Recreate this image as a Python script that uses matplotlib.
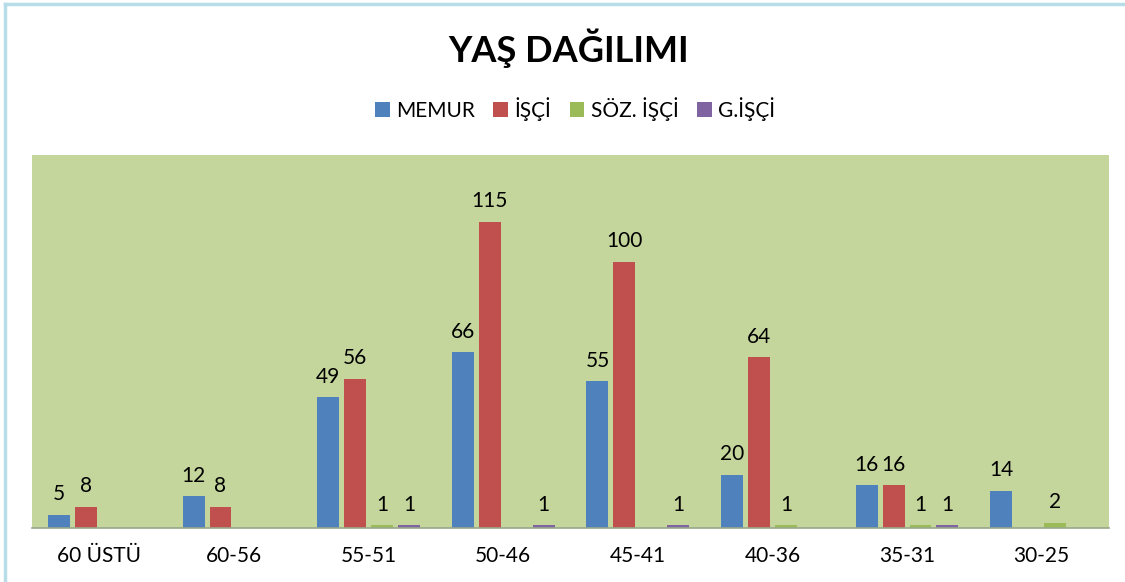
import numpy as np
import matplotlib
matplotlib.use("Agg")
import matplotlib.pyplot as plt
from matplotlib.lines import Line2D

plt.rcParams['font.family'] = ['Lato', 'DejaVu Sans']

categories = ["60 ÜSTÜ", "60-56", "55-51", "50-46", "45-41", "40-36", "35-31", "30-25"]
series_names = ["MEMUR", "İŞÇİ", "SÖZ. İŞÇİ", "G.İŞÇİ"]
memur = [5, 12, 49, 66, 55, 20, 16, 14]
isci = [8, 8, 56, 115, 100, 64, 16, 0]
soz_isci = [0, 0, 1, 0, 0, 1, 1, 2]
g_isci = [0, 0, 1, 1, 1, 0, 1, 0]
colors = ["#4F81BD", "#C0504D", "#9BBB59", "#8064A2"]

fig = plt.figure(figsize=(11.25, 5.82), dpi=100)
ax = fig.add_axes([32/1125, 1-528/582, (1109-32)/1125, (528-155)/582])
ax.set_facecolor("#C4D69C")

x = np.arange(len(categories))
width = 0.163
step = 0.2
for i, (vals, name, col) in enumerate(zip([memur, isci, soz_isci, g_isci], series_names, colors)):
    pos = x + (i - 1.5) * step
    v = np.array(vals, dtype=float)
    ax.bar(pos, np.where(v > 0, v, np.nan), width, color=col, label=name)
    for p, val in zip(pos, vals):
        if val > 0:
            ax.annotate(str(val), (p, val), xytext=(0, 7.5), textcoords="offset points",
                        ha="center", va="bottom", fontsize=15)

ax.set_xlim(-0.5, len(categories) - 0.5)
ax.set_ylim(0, 140)
ax.set_xticks(x)
ax.set_xticklabels(categories, fontsize=15)
ax.tick_params(axis="x", length=0, pad=13)
ax.set_yticks([])
for s in ["top", "left", "right"]:
    ax.spines[s].set_visible(False)
ax.spines["bottom"].set_color("#98A88A")
ax.spines["bottom"].set_linewidth(1.2)

fig.text(569/1125, 1-48/582, "YAŞ DAĞILIMI", ha="center", va="center",
         fontsize=26, fontweight="bold")

fig.legend(loc="center", bbox_to_anchor=(575/1125, 1-109/582), ncol=4, frameon=False,
           fontsize=15, handlelength=0.7, handleheight=0.7, handletextpad=0.3,
           columnspacing=0.9)

# light blue chart border (top and left)
fig.add_artist(Line2D([5/1125, 1], [1-4/582, 1-4/582], color="#B7DDE8", lw=2.5))
fig.add_artist(Line2D([5/1125, 5/1125], [0, 1-4/582], color="#B7DDE8", lw=2.5))

fig.savefig("out.png", dpi=100)
